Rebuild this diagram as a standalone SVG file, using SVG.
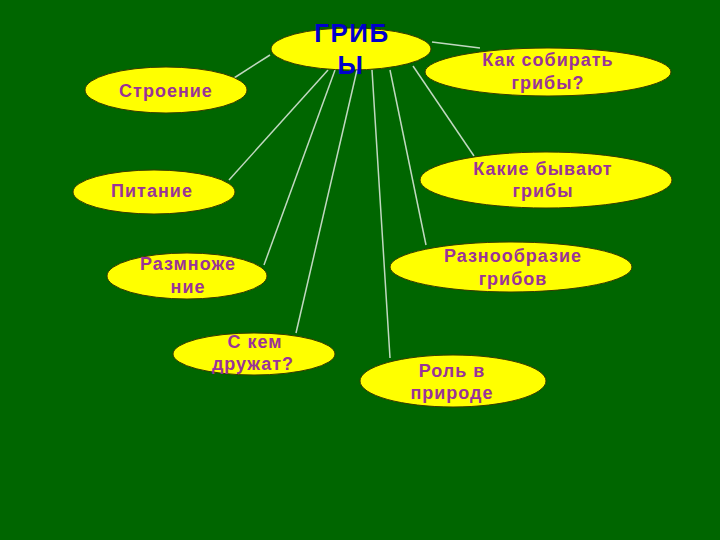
<svg xmlns="http://www.w3.org/2000/svg" width="720" height="540" viewBox="0 0 720 540">
<style>
.node ellipse{fill:#ffff00;stroke:#3a3a00;stroke-width:1}
.node text{font-family:"Liberation Sans",Arial,sans-serif;font-weight:bold;font-size:18px;fill:#993399;text-anchor:middle;letter-spacing:1px}
#title text{fill:#0000cc;font-size:26px;letter-spacing:1.5px}
.conn line{stroke:#c0d8c0;stroke-width:1.5}
</style>
<rect width="720" height="540" fill="#006600"/>
<g class="conn">
<line x1="270" y1="55" x2="234" y2="78"/>
<line x1="432" y1="42" x2="480" y2="48"/>
<line x1="413" y1="66" x2="474" y2="156"/>
<line x1="328" y1="70" x2="229" y2="180"/>
<line x1="335" y1="70" x2="264" y2="265"/>
<line x1="357" y1="70" x2="296" y2="333"/>
<line x1="372" y1="70" x2="390" y2="358"/>
<line x1="390" y1="70" x2="426" y2="245"/>
</g>
<g id="title" class="node">
<ellipse cx="351" cy="49" rx="80" ry="21"/>
<text x="352" y="42">ГРИБ</text>
<text x="351" y="74">Ы</text>
</g>
<g id="stroenie" class="node">
<ellipse cx="166" cy="90" rx="81" ry="23"/>
<text x="166" y="97">Строение</text>
</g>
<g id="kak-sobirat" class="node">
<ellipse cx="548" cy="72" rx="123" ry="24"/>
<text x="548" y="66">Как собирать</text>
<text x="548" y="89">грибы?</text>
</g>
<g id="kakie" class="node">
<ellipse cx="546" cy="180" rx="126" ry="28"/>
<text x="543" y="175">Какие бывают</text>
<text x="543" y="197">грибы</text>
</g>
<g id="pitanie" class="node">
<ellipse cx="154" cy="192" rx="81" ry="22"/>
<text x="152" y="197">Питание</text>
</g>
<g id="razmnozhenie" class="node">
<ellipse cx="187" cy="276" rx="80" ry="23"/>
<text x="188" y="270">Размноже</text>
<text x="188" y="293">ние</text>
</g>
<g id="raznoobrazie" class="node">
<ellipse cx="511" cy="267" rx="121" ry="25"/>
<text x="513" y="262">Разнообразие</text>
<text x="513" y="285">грибов</text>
</g>
<g id="s-kem" class="node">
<ellipse cx="254" cy="354" rx="81" ry="21"/>
<text x="255" y="348">С кем</text>
<text x="253" y="370">дружат?</text>
</g>
<g id="rol" class="node">
<ellipse cx="453" cy="381" rx="93" ry="26"/>
<text x="452" y="377">Роль в</text>
<text x="452" y="399">природе</text>
</g>
</svg>
